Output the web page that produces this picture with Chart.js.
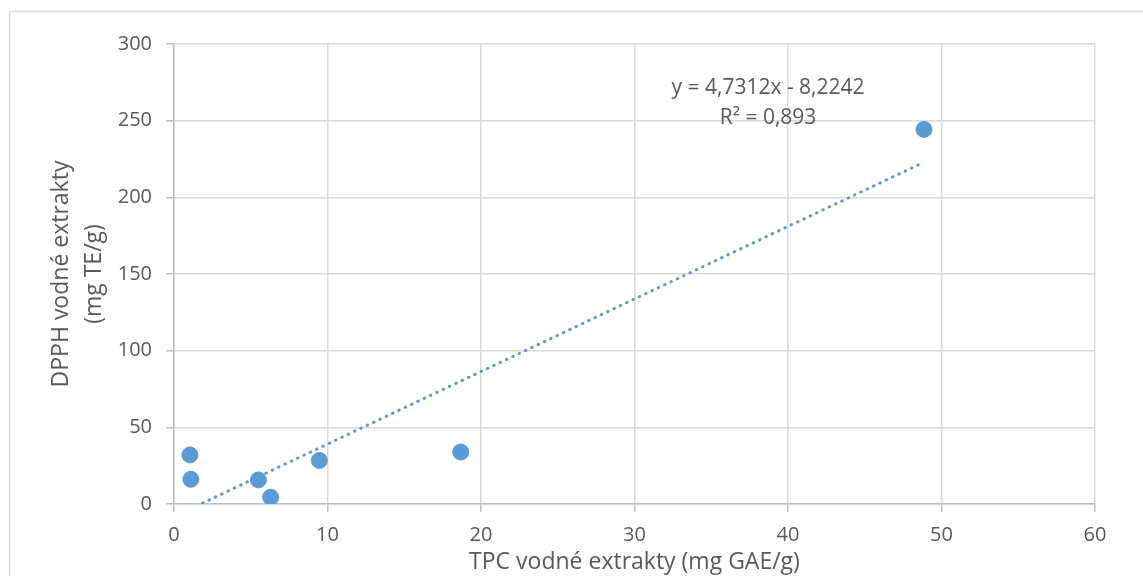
<!DOCTYPE html>
<html>
<head>
<meta charset="utf-8">
<script src="https://cdn.jsdelivr.net/npm/chart.js@4"></script>
<style>
  html, body { margin: 0; padding: 0; background: #fff; }
  #wrap { position: relative; width: 1143px; height: 576px; }
</style>
</head>
<body>
<div id="wrap"><canvas id="scatterChart" width="1143" height="576"></canvas></div>
<script>
// values
const tpcValues = [1.04, 1.1, 5.5, 6.3, 9.47, 18.68, 48.86];
const dpphValues = [32, 16.1, 15.7, 4.4, 28.4, 33.9, 244.3];
const xTicks = [0, 10, 20, 30, 40, 50, 60];
const yTicks = [0, 50, 100, 150, 200, 250, 300];
const slope = 4.7312;
const intercept = -8.2242;
const equationLines = ['y = 4,7312x - 8,2242', 'R\u00B2 = 0,893'];
const equationAt = [38.7, 271];

const blue = '#5B9BD5';
const textColor = '#595959';
const gridColor = '#D9D9D9';
const font = 'Open Sans';

const points = tpcValues.map((x, i) => ({ x: x, y: dpphValues[i] }));
const xMin = Math.min(...tpcValues);
const xMax = Math.max(...tpcValues);
const trend = [
    { x: xMin, y: slope * xMin + intercept },
    { x: xMax, y: slope * xMax + intercept }
];

const frame = {
    id: 'frame',
    beforeDraw(chart) {
        const c = chart.ctx;
        c.save();
        c.fillStyle = '#fff';
        c.fillRect(0, 0, chart.width, chart.height);
        c.strokeStyle = '#D9D9D9';
        c.lineWidth = 1.5;
        c.strokeRect(9.5, 11.5, chart.width + 20, chart.height + 20);
        c.restore();
    },
    afterDatasetsDraw(chart) {
        const c = chart.ctx;
        const xs = chart.scales.x, ys = chart.scales.y;
        const cx = xs.getPixelForValue(equationAt[0]);
        const cy = ys.getPixelForValue(equationAt[1]);
        c.save();
        c.font = '21px "' + font + '"';
        c.fillStyle = textColor;
        c.textAlign = 'center';
        c.textBaseline = 'middle';
        equationLines.forEach((t, i) => c.fillText(t, cx, cy + i * 30));
        c.restore();
    }
};

const ctx = document.getElementById('scatterChart').getContext('2d');
const chart = new Chart(ctx, {
    type: 'scatter',
    data: {
        datasets: [
            {
                label: 'DPPH',
                data: points,
                backgroundColor: blue,
                borderColor: blue,
                pointRadius: 8,
                pointHoverRadius: 8,
                order: 1
            },
            {
                label: 'Trend',
                data: trend,
                type: 'line',
                showLine: true,
                borderColor: blue,
                borderWidth: 3,
                borderDash: [0.5, 6.5],
                borderCapStyle: 'round',
                pointRadius: 0,
                fill: false,
                order: 2
            }
        ]
    },
    plugins: [frame],
    options: {
        responsive: false,
        animation: false,
        layout: { padding: { left: 10, top: 44, right: 48, bottom: 0 } },
        plugins: {
            legend: { display: false },
            tooltip: { enabled: false }
        },
        scales: {
            x: {
                type: 'linear',
                min: 0,
                max: 60,
                afterBuildTicks: (s) => { s.ticks = xTicks.map(v => ({ value: v })); },
                afterFit: (s) => { s.height = 72; },
                border: { color: '#BFBFBF', width: 1.5 },
                grid: { color: gridColor, lineWidth: 1.5, tickLength: 8, tickColor: '#BFBFBF' },
                ticks: { color: textColor, font: { family: font, size: 20 }, padding: 11 },
                title: {
                    display: true,
                    text: 'TPC vodné extrakty (mg GAE/g)',
                    color: textColor,
                    font: { family: font, size: 23, lineHeight: 1.2 },
                    padding: { top: 0, bottom: 0 }
                }
            },
            y: {
                type: 'linear',
                min: 0,
                max: 300,
                afterBuildTicks: (s) => { s.ticks = yTicks.map(v => ({ value: v })); },
                afterFit: (s) => { s.width = 164; },
                border: { color: '#BFBFBF', width: 1.5 },
                grid: { color: gridColor, lineWidth: 1.5, tickLength: 8, tickColor: '#BFBFBF' },
                ticks: { color: textColor, font: { family: font, size: 20 }, padding: 14 },
                title: {
                    display: true,
                    text: ['DPPH vodné extrakty', '(mg TE/g)'],
                    color: textColor,
                    font: { family: font, size: 23, lineHeight: 1.43 },
                    padding: { top: 35, bottom: 0 }
                }
            }
        }
    }
});
</script>
</body>
</html>
